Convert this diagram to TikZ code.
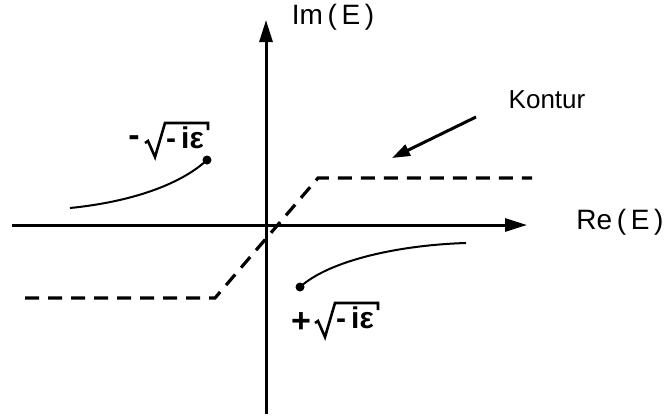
\documentclass[tikz,border=0pt]{standalone}
\usepackage{fontspec}
\setmainfont{Liberation Sans}
\usetikzlibrary{arrows.meta}
\newcommand{\bigtxt}{\fontsize{28}{32}\selectfont}
\newcommand{\kontxt}{\fontsize{26}{30}\selectfont}
\newcommand{\roottxt}{\fontsize{30}{34}\selectfont\bfseries}
\newcommand{\signtxt}{\fontsize{34}{38}\selectfont\bfseries}
\begin{document}
\begin{tikzpicture}[x=1pt,y=-1pt,
  axis/.style={line width=3pt,-{Triangle[length=22pt,width=13pt]}},
  contour/.style={line width=3.2pt,dash pattern=on 14pt off 9pt},
  branch/.style={line width=2pt},
  lbl/.style={inner sep=0pt},
  radtxt/.style={anchor=north west,inner xsep=1pt,inner ysep=0pt,text height=25pt,text depth=3pt,font=\roottxt},
  radical/.style={line width=2.6pt,line join=miter},
  pt/.style={circle,fill=black,inner sep=0pt,minimum size=9pt}]
\useasboundingbox (0,0) rectangle (667,416);
% axes
\coordinate (xl) at (12,225);
\coordinate (xr) at (527,225);
\coordinate (yb) at (266,414);
\coordinate (yt) at (266,20);
\draw[axis] (xl) -- (xr);
\draw[axis] (yb) -- (yt);
\node[lbl] (im) at (333,17) {\bigtxt Im\,(\,E\,)};
\node[lbl] (re) at (620,222) {\bigtxt Re\,(\,E\,)};
% contour
\coordinate (c1) at (25,298);
\coordinate (c2) at (215,298);
\coordinate (c3) at (318,178);
\coordinate (c4) at (532,178);
\draw[contour] (c1) -- (c2) -- (c3) -- (c4);
\node[lbl] (kon) at (547,100) {\kontxt Kontur};
\coordinate (ka) at (476,117);
\coordinate (kb) at (392,158);
\draw[line width=3pt,-{Triangle[length=18pt,width=12pt]}] (ka) -- (kb);
% branch points
\node[pt] (p1) at (207,160) {};
\node[pt] (p2) at (300,287) {};
\coordinate (e1) at (70,208);
\coordinate (e2) at (466,243);
\draw[branch] (e1) .. controls (130,202) and (180,185) .. (p1.center);
\draw[branch] (p2.center) .. controls (330,260) and (400,245) .. (e2);
% labels  -sqrt(-i eps)  and  +sqrt(-i eps)
\node[lbl,font=\signtxt] (s1) at (134,141) {-};
\node[radtxt] (t1) at (165,123) {-\,iε};
\draw[radical] ([xshift=3pt]t1.north east) ++(0,7) -- ++(0,-7) -- (t1.north west)
  -- ++(-10,34) -- ++(-7,-16) -- ++(-3,2);
\node[lbl,font=\signtxt] (s2) at (301,323) {+};
\node[radtxt] (t2) at (335,303) {-\,iε};
\draw[radical] ([xshift=3pt]t2.north east) ++(0,7) -- ++(0,-7) -- (t2.north west)
  -- ++(-10,34) -- ++(-7,-16) -- ++(-3,2);
\end{tikzpicture}
\end{document}
